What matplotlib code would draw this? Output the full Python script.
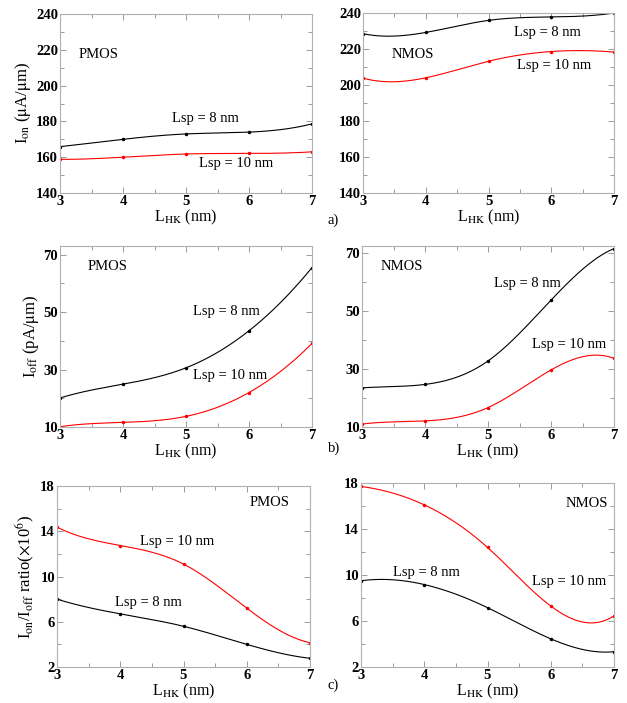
import numpy as np
import matplotlib
matplotlib.use("Agg")
import matplotlib.pyplot as plt

plt.rcParams["font.family"] = ["Liberation Serif", "DejaVu Serif"]
plt.rcParams["mathtext.fontset"] = "stix"

# --------------------------------------------------
# DATA
# --------------------------------------------------
l_hk = [3, 4, 5, 6, 7]

ion_pmos_8 = [165.9, 170.0, 173.0, 174.0, 178.6]
ion_pmos_10 = [158.8, 160.0, 161.8, 162.1, 163.0]
ion_nmos_8 = [228.5, 229.2, 235.9, 237.8, 240.0]
ion_nmos_10 = [203.8, 204.0, 213.2, 218.6, 218.3]

ioff_pmos_8 = [20.1, 24.9, 30.6, 43.5, 65.5]
ioff_pmos_10 = [10.1, 11.6, 13.7, 22.0, 39.1]
ioff_nmos_8 = [23.5, 24.7, 32.8, 53.8, 71.6]
ioff_nmos_10 = [11.0, 12.1, 16.7, 29.7, 33.7]

ratio_pmos_8 = [8.0, 6.7, 5.6, 4.0, 2.77]
ratio_pmos_10 = [14.36, 12.74, 11.1, 7.2, 4.15]
ratio_nmos_8 = [9.5, 9.17, 7.16, 4.45, 3.33]
ratio_nmos_10 = [17.7, 16.1, 12.4, 7.3, 6.45]

# y tick values (labelled / minor) for each row
ion_ticks = [140, 160, 180, 200, 220, 240]
ion_minor = [150, 170, 190, 210, 230]
ioff_ticks = [10, 30, 50, 70]
ioff_minor = [20, 40, 60]
ratio_ticks = [2, 6, 10, 14, 18]
ratio_minor = [4, 8, 12, 16]


def spline(x, y, n=200):
    # not-a-knot cubic spline, for drawing the smooth curve
    x = np.asarray(x, float)
    y = np.asarray(y, float)
    k = len(x)
    h = np.diff(x)
    A = np.zeros((k, k))
    b = np.zeros(k)
    A[0, 0], A[0, 1], A[0, 2] = -1 / h[0], 1 / h[0] + 1 / h[1], -1 / h[1]
    A[-1, -3], A[-1, -2], A[-1, -1] = -1 / h[-2], 1 / h[-2] + 1 / h[-1], -1 / h[-1]
    for i in range(1, k - 1):
        A[i, i - 1] = h[i - 1]
        A[i, i] = 2 * (h[i - 1] + h[i])
        A[i, i + 1] = h[i]
        b[i] = 6 * ((y[i + 1] - y[i]) / h[i] - (y[i] - y[i - 1]) / h[i - 1])
    M = np.linalg.solve(A, b)
    xs = np.linspace(x[0], x[-1], n)
    idx = np.clip(np.searchsorted(x, xs) - 1, 0, k - 2)
    x0, x1 = x[idx], x[idx + 1]
    hh = x1 - x0
    ys = (M[idx] * (x1 - xs) ** 3 / (6 * hh) + M[idx + 1] * (xs - x0) ** 3 / (6 * hh)
          + (y[idx] / hh - M[idx] * hh / 6) * (x1 - xs)
          + (y[idx + 1] / hh - M[idx + 1] * hh / 6) * (xs - x0))
    return xs, ys


W, H = 627, 703
fig = plt.figure(figsize=(W / 100, H / 100), dpi=100)


def make_ax(left, right, top, bottom):
    return fig.add_axes([left / W, 1 - bottom / H, (right - left) / W, (bottom - top) / H])


def style(ax, ylim, major, minor):
    ax.set_xlim(3, 7)
    ax.set_ylim(*ylim)
    ax.set_xticks(l_hk)
    ax.set_xticks([3.5, 4.5, 5.5, 6.5], minor=True)
    ax.set_yticks(major)
    ax.set_yticks(minor, minor=True)
    ax.tick_params(which="both", direction="in", top=True, right=True,
                   color="#9a9a9a", width=0.7)
    ax.tick_params(which="major", length=4, labelsize=10.5, pad=1.5)
    ax.tick_params(which="minor", length=3)
    for lab in ax.get_xticklabels() + ax.get_yticklabels():
        lab.set_fontweight("bold")
    for sp in ax.spines.values():
        sp.set_color("#b0b0b0")
        sp.set_linewidth(0.8)
    ax.set_xlabel(r"L$_{\mathrm{HK}}$ (nm)", fontsize=11.5, labelpad=0)


def curves(ax, y8, y10):
    for y, c in ((y8, "black"), (y10, "red")):
        xs, ys = spline(l_hk, y)
        ax.plot(xs, ys, color=c, lw=0.8)
        ax.plot(l_hk, y, ".", color=c, ms=3)


def note(ax, x, y, s):
    ax.text(x, y, s, fontsize=10.5, ha="left", va="center")


# --------------------------------------------------
# a) ON CURRENT
# --------------------------------------------------
ax = make_ax(60, 312, 14, 193)
curves(ax, ion_pmos_8, ion_pmos_10)
style(ax, (140, 240), ion_ticks, ion_minor)
ax.set_ylabel(r"I$_{\mathrm{on}}$ ($\mathrm{\mu}$A/$\mathrm{\mu}$m)", fontsize=12, labelpad=2)
note(ax, 3.3, 217.5, "PMOS")
note(ax, 4.78, 181.5, "Lsp = 8 nm")
note(ax, 5.21, 156.3, "Lsp = 10 nm")

ax = make_ax(363, 614, 13, 193)
curves(ax, ion_nmos_8, ion_nmos_10)
style(ax, (140, 240), ion_ticks, ion_minor)
note(ax, 3.46, 216.7, "NMOS")
note(ax, 5.41, 228.9, "Lsp = 8 nm")
note(ax, 5.45, 210.6, "Lsp = 10 nm")

# --------------------------------------------------
# b) OFF CURRENT
# --------------------------------------------------
ax = make_ax(60, 312, 246, 427)
curves(ax, ioff_pmos_8, ioff_pmos_10)
style(ax, (10, 73), ioff_ticks, ioff_minor)
ax.set_ylabel(r"I$_{\mathrm{off}}$ (pA/$\mathrm{\mu}$m)", fontsize=12, labelpad=2)
note(ax, 3.44, 66, "PMOS")
note(ax, 5.11, 50.2, "Lsp = 8 nm")
note(ax, 5.11, 27.9, "Lsp = 10 nm")

ax = make_ax(362, 614, 246, 427)
curves(ax, ioff_nmos_8, ioff_nmos_10)
style(ax, (10, 72.5), ioff_ticks, ioff_minor)
note(ax, 3.3, 65.5, "NMOS")
note(ax, 5.1, 59.6, "Lsp = 8 nm")
note(ax, 5.7, 38.5, "Lsp = 10 nm")

# --------------------------------------------------
# c) ON/OFF RATIO
# --------------------------------------------------
ax = make_ax(57, 310, 486, 667)
curves(ax, ratio_pmos_8, ratio_pmos_10)
style(ax, (2, 18), ratio_ticks, ratio_minor)
ax.set_ylabel(r"I$_{\mathrm{on}}$/I$_{\mathrm{off}}$ ratio($\times$10$^{6}$)", fontsize=12, labelpad=2)
note(ax, 6.04, 16.5, "PMOS")
note(ax, 4.31, 13.1, "Lsp = 10 nm")
note(ax, 3.92, 7.74, "Lsp = 8 nm")

ax = make_ax(361, 614, 483, 667)
curves(ax, ratio_nmos_8, ratio_nmos_10)
style(ax, (2, 18), ratio_ticks, ratio_minor)
note(ax, 6.23, 16.26, "NMOS")
note(ax, 3.5, 10.26, "Lsp = 8 nm")
note(ax, 5.7, 9.4, "Lsp = 10 nm")

# panel tags
for y, tag in ((220, "a)"), (448, "b)"), (685, "c)")):
    fig.text(328 / W, 1 - y / H, tag, fontsize=10.5, ha="left", va="center")

fig.savefig("out.png", dpi=100)
